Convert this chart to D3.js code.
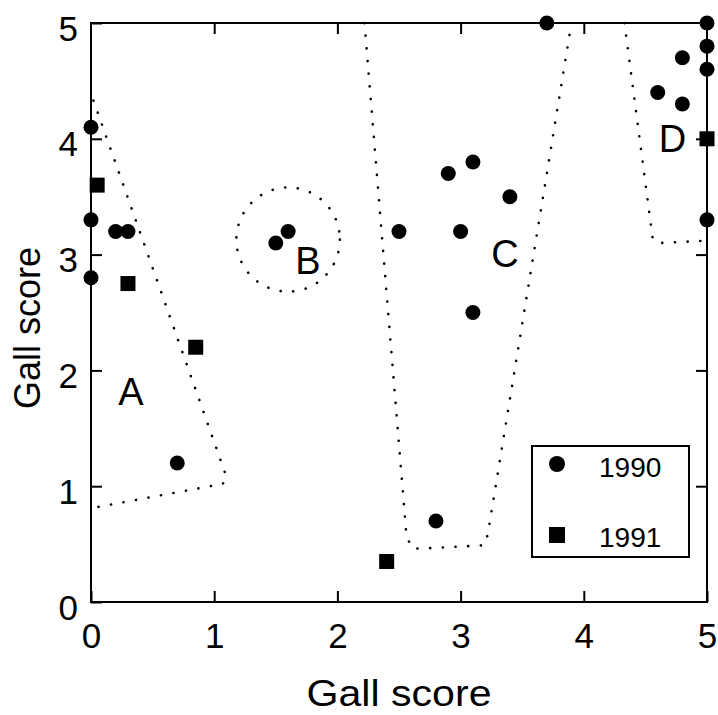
<!DOCTYPE html>
<html><head><meta charset="utf-8">
<script src="https://cdn.jsdelivr.net/npm/d3@7"></script>
<style>body{margin:0;background:#fff}</style></head>
<body><svg id="c" width="718" height="715"></svg>
<script>
const tickValues=[0,1,2,3,4,5];
const tickLabels=["0","1","2","3","4","5"];
const x1990=[0,0,0,0.2,0.3,0.7,1.5,1.6,2.5,2.8,2.9,3.0,3.1,3.1,3.4,3.7,4.6,4.8,4.8,5,5,5,5];
const y1990=[4.1,3.3,2.8,3.2,3.2,1.2,3.1,3.2,3.2,0.7,3.7,3.2,3.8,2.5,3.5,5.0,4.4,4.7,4.3,5.0,4.8,4.6,3.3];
const x1991=[0.05,0.3,0.85,2.4,5];
const y1991=[3.6,2.75,2.2,0.35,4.0];
const regionA=[[0.02,4.33],[1.1,1.08],[1.07,1.02],[0,0.81]];
const regionC=[[2.22,5.0],[2.56,0.58],[2.6,0.47],[2.66,0.46],[3.19,0.49],[3.22,0.58],[3.9,5.0]];
const regionD=[[4.33,5.0],[4.56,3.13],[4.62,3.1],[5.0,3.12]];
const regionB={cx:1.6,cy:3.13,rx:0.42,ry:0.45};
const regionLabels=["A","B","C","D"];
const labelX=[0.325,1.76,3.36,4.72];
const labelY=[1.70,2.83,2.89,3.89];
const seriesNames=["1990","1991"];

const svg=d3.select("#c");
const font="Liberation Sans, Arial, Helvetica, sans-serif";
const L=91,R=707,T=23,B=602;
const x=d3.scaleLinear().domain([0,5]).range([L,R]);
const y=d3.scaleLinear().domain([0,5]).range([B,T]);

// frame
svg.append("rect").attr("x",L).attr("y",T).attr("width",R-L).attr("height",B-T)
  .attr("fill","none").attr("stroke","#000").attr("stroke-width",2);

// axes with inward ticks
const tk=11;
const gx=svg.append("g").attr("transform",`translate(0,${B})`)
  .call(d3.axisBottom(x).tickValues(tickValues).tickFormat((d,i)=>tickLabels[i]).tickSizeInner(-tk).tickSizeOuter(0).tickPadding(21));
const gy=svg.append("g").attr("transform",`translate(${L},0)`)
  .call(d3.axisLeft(y).tickValues(tickValues).tickFormat((d,i)=>tickLabels[i]).tickSizeInner(-tk).tickSizeOuter(0).tickPadding(13));
const gt=svg.append("g").attr("transform",`translate(0,${T})`)
  .call(d3.axisTop(x).tickValues(tickValues.slice(1,-1)).tickFormat("").tickSizeInner(-tk).tickSizeOuter(0));
const gr=svg.append("g").attr("transform",`translate(${R},0)`)
  .call(d3.axisRight(y).tickValues(tickValues.slice(1,-1)).tickFormat("").tickSizeInner(-tk).tickSizeOuter(0));
[gx,gy,gt,gr].forEach(g=>{
  g.select(".domain").remove();
  g.selectAll("line").attr("stroke","#000").attr("stroke-width",2);
  g.selectAll("text").attr("fill","#000").attr("font-family",font).attr("font-size",35);
});
gx.selectAll("text").attr("dy","0.71em");
gy.selectAll("text").attr("dy","0.49em");

// dotted regions
const line=d3.line().x(d=>x(d[0])).y(d=>y(d[1]));
const dotStyle=s=>s.attr("fill","none").attr("stroke","#000").attr("stroke-width",2.6)
  .attr("stroke-linecap","round").attr("stroke-dasharray","0.1 12.6");
[regionA,regionC,regionD].forEach(r=>{
  svg.append("path").attr("d",line(r)).call(dotStyle);
});
svg.append("ellipse").attr("cx",x(regionB.cx)).attr("cy",y(regionB.cy))
  .attr("rx",x(regionB.rx)-x(0)).attr("ry",y(0)-y(regionB.ry)).call(dotStyle);

// region labels
svg.selectAll(".rl").data(regionLabels).enter().append("text")
  .attr("x",(d,i)=>x(labelX[i])).attr("y",(d,i)=>y(labelY[i]))
  .attr("text-anchor","middle").attr("font-family",font).attr("font-size",38)
  .attr("fill","#000").text(d=>d);

// markers
svg.selectAll(".p90").data(x1990).enter().append("circle")
  .attr("cx",d=>x(d)).attr("cy",(d,i)=>y(y1990[i])).attr("r",7.5).attr("fill","#000");
const sq=15;
svg.selectAll(".p91").data(x1991).enter().append("rect")
  .attr("x",d=>x(d)-sq/2).attr("y",(d,i)=>y(y1991[i])-sq/2).attr("width",sq).attr("height",sq).attr("fill","#000");

// axis titles
svg.append("text").attr("x",(L+R)/2).attr("y",706).attr("text-anchor","middle")
  .attr("font-family",font).attr("font-size",36).attr("textLength",185).attr("lengthAdjust","spacingAndGlyphs")
  .attr("fill","#000").text("Gall score");
svg.append("text").attr("transform","translate(40,328) rotate(-90)").attr("text-anchor","middle")
  .attr("font-family",font).attr("font-size",36).attr("fill","#000").text("Gall score");

// legend
const lg=svg.append("g");
lg.append("rect").attr("x",532).attr("y",446).attr("width",157).attr("height",111)
  .attr("fill","#fff").attr("stroke","#000").attr("stroke-width",2);
lg.append("circle").attr("cx",557).attr("cy",464).attr("r",8).attr("fill","#000");
lg.append("rect").attr("x",549).attr("y",527).attr("width",16).attr("height",16).attr("fill","#000");
lg.selectAll(".lt").data(seriesNames).enter().append("text")
  .attr("x",599).attr("y",(d,i)=>i?547:477).attr("font-family",font).attr("font-size",28)
  .attr("fill","#000").text(d=>d);
</script></body></html>
